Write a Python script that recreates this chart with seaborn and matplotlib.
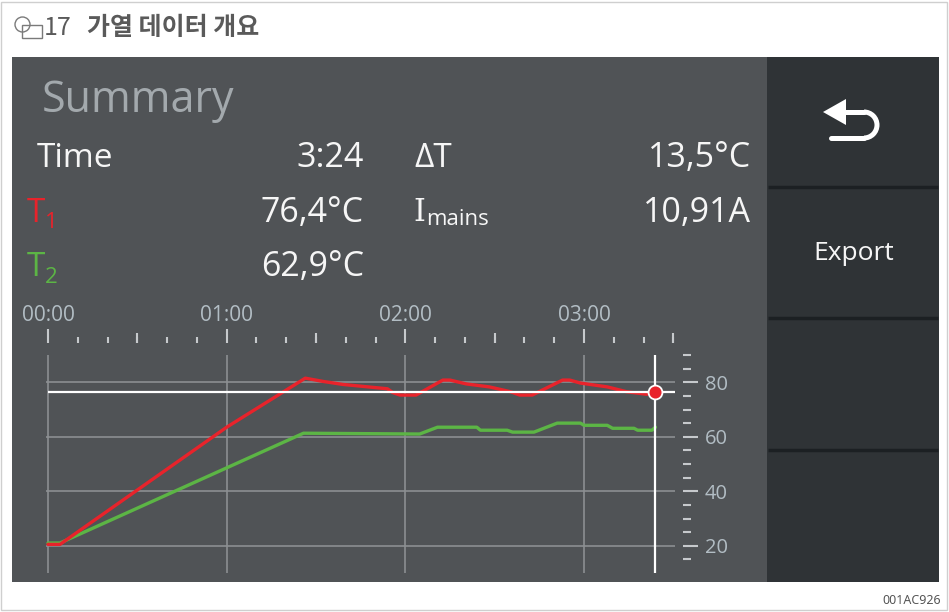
import matplotlib
matplotlib.use("Agg")
import matplotlib.pyplot as plt
import seaborn as sns
from matplotlib.patches import Rectangle, Circle, Arc, Polygon
from matplotlib.ticker import FixedLocator

# -----------------------------
# Data
# -----------------------------
# time in minutes, temperature in degC
t1_time = [0.0, 0.067, 1.0, 1.44, 1.54, 1.65, 1.90, 1.93, 1.97, 2.06, 2.21, 2.25,
           2.34, 2.47, 2.59, 2.64, 2.71, 2.88, 2.92, 2.98, 3.13, 3.24, 3.35, 3.40]
t1_temp = [20.5, 20.5, 63.5, 81.5, 80.3, 79.2, 77.6, 76.2, 75.3, 75.3, 80.8, 80.8,
           79.4, 78.3, 76.5, 75.3, 75.3, 80.8, 80.8, 79.7, 78.3, 76.5, 75.6, 76.4]

t2_time = [0.0, 0.067, 1.43, 2.08, 2.18, 2.40, 2.42, 2.57, 2.60, 2.72, 2.85, 2.98,
           3.00, 3.13, 3.16, 3.28, 3.30, 3.38, 3.40]
t2_temp = [21.0, 21.0, 61.3, 61.0, 63.5, 63.5, 62.4, 62.4, 61.7, 61.7, 65.0, 65.0,
           64.2, 64.2, 63.1, 63.1, 62.4, 62.4, 63.5]

time_now = 3.4          # 3:24
t1_now = 76.4
t2_now = 62.9
delta_t = 13.5
i_mains = 10.91

minute_ticks = [0, 1, 2, 3]
minute_labels = ["00:00", "01:00", "02:00", "03:00"]
half_ticks = [0.5, 1.5, 2.5, 3.5]
sec_ticks = [i / 6 for i in range(22)]
y_major = [20, 40, 60, 80]
y_minor = [15, 25, 30, 35, 45, 50, 55, 65, 70, 75, 85, 90]

# -----------------------------
# Style
# -----------------------------
sns.set_style("dark")
plt.rcParams["font.family"] = ["Open Sans", "DejaVu Sans"]

RED = "#e8232b"
GREEN = "#5cb545"
SCREEN = "#505356"
BUTTON = "#2f3336"
GRID = "#8c8f92"
TICK = "#c6c9cc"
LABEL = "#b2bdc4"
TXT = "#f6f6f6"

W, H = 949, 612
fig = plt.figure(figsize=(W / 100, H / 100), dpi=100, facecolor="white")

# background canvas in pixel units
bg = fig.add_axes([0, 0, 1, 1])
bg.set_xlim(0, W)
bg.set_ylim(H, 0)
bg.axis("off")

bg.add_patch(Rectangle((1.5, 1.5), 945.5, 608.5, fill=False, ec="#cfcfcf", lw=1))
bg.add_patch(Rectangle((12, 57), 756, 525, fc=SCREEN, ec="none"))
bg.add_patch(Rectangle((767, 57), 172, 525, fc=BUTTON, ec="none"))
for yy in [187, 318, 450]:
    bg.plot([768, 938], [yy, yy], color="#1c2023", lw=2.5, solid_capstyle="butt")

# header
bg.add_patch(Circle((22.5, 24.5), 7.5, fill=False, ec="#7a7a7a", lw=1))
bg.add_patch(Rectangle((22, 25), 20, 13, fill=False, ec="#7a7a7a", lw=1))
bg.text(44, 28, "17", fontsize=18, color="#5a5a5a", va="center",
        family=["Noto Sans CJK KR", "DejaVu Sans"])
bg.text(87, 28, "가열 데이터 개요", fontsize=18, color="#5a5a5a", va="center",
        weight="bold", family=["Noto Sans CJK KR", "DejaVu Sans"])
bg.text(941, 600, "001AC926", fontsize=9, color="#555555", ha="right", va="center",
        family=["Noto Sans", "DejaVu Sans"])

# back button arrow
bg.plot([838, 864], [112, 112], color="white", lw=3.6, solid_capstyle="round")
bg.add_patch(Arc((864, 125), 26, 26, theta1=-90, theta2=90, color="white", lw=3.6))
bg.plot([864, 831], [138, 138], color="white", lw=3.6, solid_capstyle="round")
bg.add_patch(Polygon([[823, 112], [846, 99], [846, 125]], closed=True, fc="white", ec="none"))
bg.text(854, 253, "Export", fontsize=19, color=TXT, ha="center", va="center")

# summary block
bg.text(42, 112, "Summary", fontsize=31, color="#a3a9ad", va="baseline")
bg.text(37, 167, "Time", fontsize=24, color=TXT, va="baseline")
bg.text(364, 167, f"{int(time_now)}:{round((time_now % 1) * 60):02d}", fontsize=24.5,
        color=TXT, ha="right", va="baseline")
bg.text(27, 222, "T", fontsize=24, color=RED, va="baseline")
bg.text(45, 228, "1", fontsize=16, color=RED, va="baseline")
bg.text(364, 222, f"{t1_now:.1f}°C".replace(".", ","), fontsize=24.5, color=TXT,
        ha="right", va="baseline")
bg.text(27, 276, "T", fontsize=24, color=GREEN, va="baseline")
bg.text(45, 283, "2", fontsize=16, color=GREEN, va="baseline")
bg.text(364, 276, f"{t2_now:.1f}°C".replace(".", ","), fontsize=24.5, color=TXT,
        ha="right", va="baseline")
bg.text(414, 167, "ΔT", fontsize=24, color=TXT, va="baseline")
bg.text(751, 167, f"{delta_t:.1f}°C".replace(".", ","), fontsize=24.5, color=TXT,
        ha="right", va="baseline")
bg.text(413, 221, "I", fontsize=22, color=TXT, va="baseline", family="DejaVu Serif")
bg.text(426, 225, "mains", fontsize=16, color=TXT, va="baseline")
bg.text(751, 222, f"{i_mains:.2f}A".replace(".", ","), fontsize=24.5, color=TXT,
        ha="right", va="baseline")

# -----------------------------
# Temperature chart
# -----------------------------
px_per_min = 178.67
ax = fig.add_axes([46 / W, 1 - 573 / H, (675 - 46) / W, 218 / H])
ax.patch.set_alpha(0)

sns.lineplot(x=t2_time, y=t2_temp, ax=ax, color=GREEN, lw=2.4, estimator=None)
sns.lineplot(x=t1_time, y=t1_temp, ax=ax, color=RED, lw=2.4, estimator=None)

ax.set_xlim(-2 / px_per_min, 627 / px_per_min)
ax.set_ylim(10, 90)
ax.hlines(t1_now, t1_time[0], ax.get_xlim()[1], color="white", lw=1.6, zorder=3)
ax.axvline(time_now, color="white", lw=1.6, zorder=3)
ax.plot([time_now], [t1_now], "o", ms=10, mfc=RED, mec="white", mew=1.3, zorder=4)

for s in ax.spines.values():
    s.set_visible(False)
ax.set_xlabel("")
ax.set_ylabel("")

# time ruler on top
ax.xaxis.tick_top()
ax.spines["top"].set_position(("outward", 12 * 0.72))
ax.set_xticks(minute_ticks)
ax.set_xticklabels(minute_labels)
ax.xaxis.set_minor_locator(FixedLocator(sec_ticks))
ax.tick_params(axis="x", which="major", top=True, bottom=False, direction="out",
               length=14 * 0.72, width=1.5, color=TICK, labelcolor=LABEL,
               labelsize=15, pad=2.5)
ax.tick_params(axis="x", which="minor", top=True, bottom=False, direction="out",
               length=6 * 0.72, width=1.5, color=TICK)

sec = ax.secondary_xaxis(1 + 12 / 218)
sec.set_xticks(half_ticks)
sec.set_xticklabels([])
sec.tick_params(axis="x", direction="out", length=10 * 0.72, width=1.5, color=TICK)
for s in sec.spines.values():
    s.set_visible(False)

# temperature scale on the right
ax.yaxis.tick_right()
ax.spines["right"].set_position(("outward", 8 * 0.72))
ax.set_yticks(y_major)
ax.yaxis.set_minor_locator(FixedLocator(y_minor))
ax.tick_params(axis="y", which="major", right=True, left=False, direction="out",
               length=15 * 0.72, width=1.5, color=TICK, labelcolor=LABEL,
               labelsize=14.5, pad=5)
ax.tick_params(axis="y", which="minor", right=True, left=False, direction="out",
               length=8 * 0.72, width=1.5, color=TICK)

ax.grid(True, which="major", color=GRID, lw=1.2)
ax.grid(False, which="minor")

fig.savefig("out.png", dpi=100, facecolor="white")
